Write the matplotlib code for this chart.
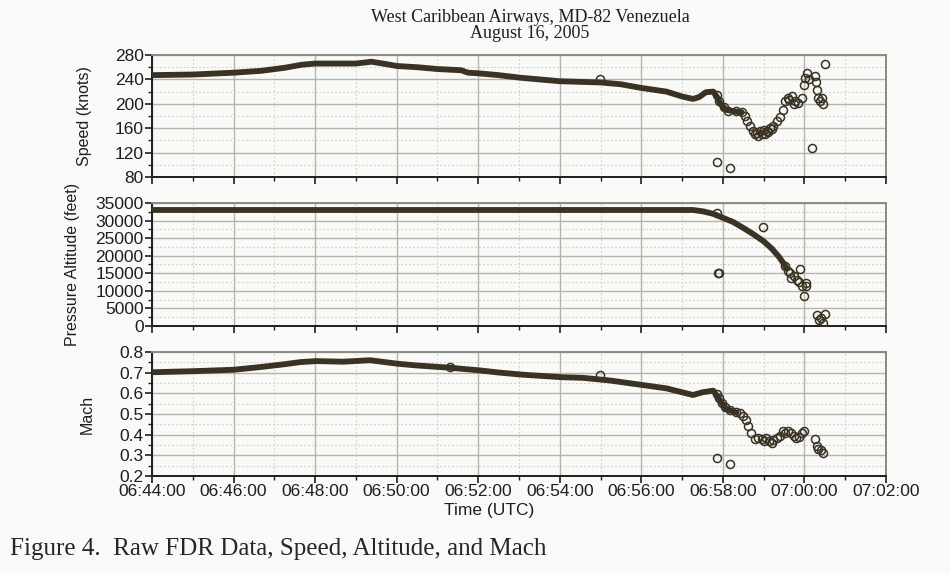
import matplotlib

matplotlib.use("Agg")
import matplotlib.pyplot as plt
import matplotlib.dates as mdates
import pandas as pd

# --- data (UTC times, 16 Aug 2005) ---
speed_band_time = ["06:44:00", "06:45:00", "06:46:00", "06:46:40", "06:47:15", "06:47:40",
                   "06:48:00", "06:48:30", "06:49:00", "06:49:23", "06:49:45", "06:50:00",
                   "06:50:30", "06:51:00", "06:51:35", "06:51:45", "06:52:00", "06:52:30",
                   "06:53:00", "06:53:30", "06:54:00", "06:54:30", "06:55:00", "06:55:30",
                   "06:56:00", "06:56:37", "06:57:00", "06:57:16", "06:57:25", "06:57:35",
                   "06:57:46", "06:57:51", "06:57:57", "06:58:05", "06:58:15", "06:58:28"]
speed_band = [247, 248, 251, 254, 259, 264, 266, 266, 266, 269, 265, 262,
              260, 257, 255, 251, 250, 247, 243, 240, 237, 236, 235, 232,
              226, 220, 212, 208, 211, 219, 220, 212, 199, 190, 188, 186]
speed_pts_time = ["06:57:51", "06:57:55", "06:58:01", "06:58:08", "06:58:20", "06:58:28",
                  "06:58:32", "06:58:36", "06:58:40", "06:58:44", "06:58:47", "06:58:50",
                  "06:58:52", "06:58:55", "06:58:57", "06:59:00", "06:59:02", "06:59:05",
                  "06:59:07", "06:59:10", "06:59:12", "06:59:14", "06:59:19", "06:59:24",
                  "06:59:28", "06:59:32", "06:59:36", "06:59:38", "06:59:41", "06:59:44",
                  "06:59:46", "06:59:51", "06:59:56", "06:59:59", "07:00:01", "07:00:04",
                  "07:00:07", "07:00:15", "07:00:17", "07:00:18", "07:00:20", "07:00:23",
                  "07:00:26", "07:00:27", "07:00:30",
                  "06:57:51", "06:58:10", "07:00:11", "06:54:59"]
speed_pts = [214, 205, 194, 189, 188, 186, 180, 171, 163, 155, 150, 152,
             148, 155, 151, 157, 150, 156, 153, 160, 158, 163, 171, 179,
             190, 204, 209, 206, 213, 200, 204, 201, 209, 231, 242, 250,
             240, 245, 236, 223, 209, 204, 209, 200, 265,
             104, 94, 128, 240]

alt_band_time = ["06:44:00", "06:48:00", "06:52:00", "06:56:00", "06:57:16", "06:57:31",
                 "06:57:46", "06:58:01", "06:58:15", "06:58:30", "06:58:45", "06:59:00",
                 "06:59:12", "06:59:22", "06:59:29", "06:59:34"]
alt_band = [33000, 33000, 33000, 33000, 33000, 32600,
            31900, 30700, 29600, 27900, 26100, 24100,
            22000, 19800, 17900, 16300]
alt_pts_time = ["06:57:51", "06:57:53", "06:57:54", "06:58:59", "06:59:32", "06:59:36",
                "06:59:39", "06:59:40", "06:59:44", "06:59:49", "06:59:52", "06:59:53",
                "06:59:56", "06:59:59", "07:00:02", "07:00:03", "07:00:19", "07:00:22",
                "07:00:24", "07:00:28", "07:00:30"]
alt_pts = [32100, 15100, 15000, 28300, 17000, 15600,
           15100, 13600, 14100, 13200, 12500, 16300,
           11300, 8500, 12200, 11300, 3000, 1800,
           2400, 850, 3400]

mach_band_time = ["06:44:00", "06:45:00", "06:46:00", "06:46:39", "06:47:13", "06:47:38",
                  "06:48:02", "06:48:41", "06:49:21", "06:50:02", "06:50:29", "06:51:18",
                  "06:52:02", "06:52:32", "06:53:06", "06:54:03", "06:54:34", "06:55:14",
                  "06:56:00", "06:56:37", "06:57:00", "06:57:16", "06:57:30", "06:57:46",
                  "06:57:51", "06:57:56", "06:58:01", "06:58:05", "06:58:20"]
mach_band = [0.702, 0.707, 0.714, 0.727, 0.740, 0.751,
             0.756, 0.753, 0.760, 0.743, 0.735, 0.724,
             0.711, 0.700, 0.690, 0.678, 0.675, 0.662,
             0.641, 0.624, 0.605, 0.592, 0.605, 0.613,
             0.589, 0.564, 0.543, 0.524, 0.507]
mach_pts_time = ["06:57:51", "06:57:54", "06:57:58", "06:58:03", "06:58:10", "06:58:20",
                 "06:58:25", "06:58:30", "06:58:34", "06:58:37", "06:58:42", "06:58:47",
                 "06:58:52", "06:58:57", "06:59:00", "06:59:04", "06:59:08", "06:59:12",
                 "06:59:14", "06:59:19", "06:59:24", "06:59:28", "06:59:32", "06:59:36",
                 "06:59:40", "06:59:44", "06:59:48", "06:59:52", "06:59:56", "07:00:00",
                 "07:00:15", "07:00:18", "07:00:20", "07:00:24", "07:00:28",
                 "06:57:51", "06:58:10", "06:54:59", "06:51:18"]
mach_pts = [0.595, 0.575, 0.555, 0.535, 0.520, 0.510,
            0.505, 0.490, 0.470, 0.442, 0.410, 0.378,
            0.385, 0.378, 0.370, 0.382, 0.370, 0.360,
            0.375, 0.385, 0.395, 0.420, 0.410, 0.420,
            0.410, 0.395, 0.385, 0.390, 0.410, 0.420,
            0.380, 0.345, 0.330, 0.325, 0.312,
            0.288, 0.256, 0.688, 0.728]

x_start, x_end = "06:44:00", "07:02:00"


def to_dt(times):
    return pd.to_datetime(["2005-08-16 " + t for t in times])


INK = "#3a3224"
PAPER = "#f9f9f7"
TEXT = "#1e1e1e"

fig = plt.figure(figsize=(9.5, 5.73), dpi=100)
fig.patch.set_facecolor(PAPER)

panels = [
    (speed_band_time, speed_band, speed_pts_time, speed_pts, "Speed (knots)",
     (80, 280), 40, 20, [0.16, 0.6911, 0.7726, 0.2129], -0.082),
    (alt_band_time, alt_band, alt_pts_time, alt_pts, "Pressure Altitude (feet)",
     (0, 35000), 5000, 2500, [0.16, 0.4311, 0.7726, 0.2147], -0.098),
    (mach_band_time, mach_band, mach_pts_time, mach_pts, "Mach",
     (0.2, 0.8), 0.1, 0.05, [0.16, 0.1693, 0.7726, 0.2164], -0.078),
]

for i, (bt, bv, pt, pv, label, ylim, major, minor, rect, lx) in enumerate(panels):
    ax = fig.add_axes(rect)
    ax.set_facecolor(PAPER)
    ax.plot(to_dt(bt), bv, color=INK, lw=4.2, solid_capstyle="round", zorder=3)
    ax.plot(to_dt(pt), pv, ls="none", marker="o", ms=5.8, mfc="none",
            mec=INK, mew=1.1, zorder=4)

    ax.set_xlim(pd.Timestamp("2005-08-16 " + x_start), pd.Timestamp("2005-08-16 " + x_end))
    ax.set_ylim(*ylim)
    ax.yaxis.set_major_locator(plt.MultipleLocator(major))
    ax.yaxis.set_minor_locator(plt.MultipleLocator(minor))
    ax.xaxis.set_major_locator(mdates.MinuteLocator(byminute=range(0, 60, 2)))
    ax.xaxis.set_minor_locator(mdates.MinuteLocator())
    ax.xaxis.set_major_formatter(mdates.DateFormatter("%H:%M:%S"))
    if label == "Mach":
        ax.yaxis.set_major_formatter(plt.FuncFormatter(lambda v, p: f"{v:.1f}"))

    ax.grid(which="major", color="#b4b4ac", lw=1.0)
    ax.grid(which="minor", color="#cfcfc8", lw=0.8, ls=(0, (1.5, 2)))
    ax.set_axisbelow(True)

    ax.tick_params(which="major", direction="out", length=5, width=1.2,
                   colors=TEXT, labelsize=12.5, pad=1)
    ax.tick_params(which="minor", direction="out", length=3, width=1.0, colors=TEXT)
    for t in ax.get_xticklabels() + ax.get_yticklabels():
        t.set_fontfamily("Liberation Sans")
    if i < 2:
        ax.tick_params(axis="x", labelbottom=False)

    for side in ("left", "bottom"):
        ax.spines[side].set_color("#1e1e1e")
        ax.spines[side].set_linewidth(1.4)
    for side in ("top", "right"):
        ax.spines[side].set_color("#8a8a84")
        ax.spines[side].set_linewidth(1.4)

    ax.set_ylabel(label, fontsize=11.5, family="Liberation Sans", color=TEXT)
    ax.yaxis.set_label_coords(lx, 0.5)

fig.text(530 / 950, 1 - 17 / 573, "West Caribbean Airways, MD-82 Venezuela",
         ha="center", va="center", family="Liberation Serif", fontsize=13, color=TEXT)
fig.text(530 / 950, 1 - 33 / 573, "August 16, 2005",
         ha="center", va="center", family="Liberation Serif", fontsize=13, color=TEXT)
fig.text(489 / 950, 1 - 510 / 573, "Time (UTC)", ha="center", va="center",
         family="Liberation Sans", fontsize=12.5, color=TEXT)
fig.text(10 / 950, 1 - 549 / 573, "Figure 4.  Raw FDR Data, Speed, Altitude, and Mach",
         ha="left", va="center", family="Liberation Serif", fontsize=18, color="#262626")

fig.savefig("out.png", dpi=100, facecolor=fig.get_facecolor())
